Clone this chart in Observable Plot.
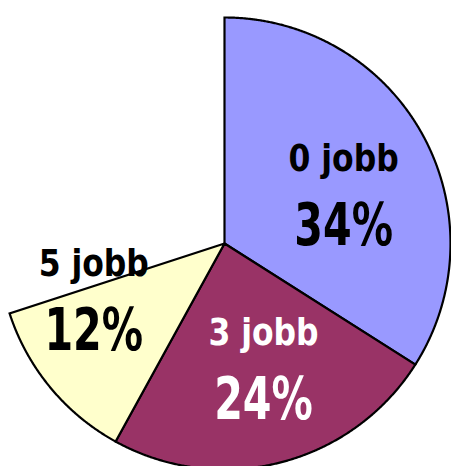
<!DOCTYPE html>
<html><head><meta charset="utf-8">
<script src="https://cdn.jsdelivr.net/npm/d3@7"></script>
<script src="https://cdn.jsdelivr.net/npm/@observablehq/plot@0.6"></script>
<style>html,body{margin:0;padding:0;background:#fff;overflow:hidden}</style>
</head><body><div id="chart"></div>
<script>
// ---- data ----
const categories = ["0 jobb", "3 jobb", "5 jobb"];
const shares = [34, 24, 12];
const shareLabels = ["34%", "24%", "12%"];
const sliceColors = ["#9999FF", "#993366", "#FFFFCC"];
const textColors = ["#000000", "#FFFFFF", "#000000"];
// ---- layout (label placement tweaks, like the original's fitted labels) ----
const labelAngleShift = [6.4, -2.9, 16.3];
const labelRadius = [0.57, 0.58, 0.63];

const toRad = Math.PI / 180;
let start = 0;
const slices = categories.map((c, i) => {
  const a0 = start, a1 = start + shares[i] / 100 * 360;
  start = a1;
  return {c, i, a0, a1};
});
const pts = [];
for (const s of slices) {
  pts.push({c: s.c, x: 0, y: 0});
  const n = Math.ceil((s.a1 - s.a0) / 0.25);
  for (let k = 0; k <= n; k++) {
    const a = (s.a0 + (s.a1 - s.a0) * k / n) * toRad;
    pts.push({c: s.c, x: Math.sin(a), y: Math.cos(a)});
  }
  pts.push({c: s.c, x: 0, y: 0});
}
const labels = slices.map(s => {
  const a = ((s.a0 + s.a1) / 2 + labelAngleShift[s.i]) * toRad;
  const r = labelRadius[s.i];
  return {c: s.c, pct: shareLabels[s.i], tc: textColors[s.i], x: r * Math.sin(a), y: r * Math.cos(a)};
});
const font = "'DejaVu Sans Condensed', 'DejaVu Sans', sans-serif";
const textMarks = labels.flatMap(d => [
  Plot.text([d], {x: "x", y: "y", text: "c", fill: d.tc, fontSize: 38, fontWeight: "bold", dy: -36, fontFamily: font}),
  Plot.text([d], {x: "x", y: "y", text: "pct", fill: d.tc, fontSize: 58, fontWeight: "bold", dy: 32, fontFamily: font})
]);

const chart = Plot.plot({
  width: 451, height: 466, margin: 0,
  style: {background: "#fff", fontStretch: "condensed"},
  x: {domain: [-1, 1], range: [-2, 450], axis: null},
  y: {domain: [-1, 1], range: [469, 17], axis: null},
  color: {domain: categories, range: sliceColors},
  marks: [
    Plot.line(pts, {x: "x", y: "y", z: "c", fill: "c", stroke: "#000", strokeWidth: 2.2, strokeLinejoin: "miter", strokeMiterlimit: 4}),
    ...textMarks
  ]
});
document.getElementById("chart").appendChild(chart);
// narrow the glyphs horizontally to mimic the original's condensed typeface
d3.select(chart).selectAll("text").each(function () {
  const t = this.textContent;
  const w = this.getComputedTextLength();
  const k = t.endsWith("%") ? 0.79 : 0.92;
  this.setAttribute("textLength", (w * k).toFixed(1));
  this.setAttribute("lengthAdjust", "spacingAndGlyphs");
});
</script></body></html>
